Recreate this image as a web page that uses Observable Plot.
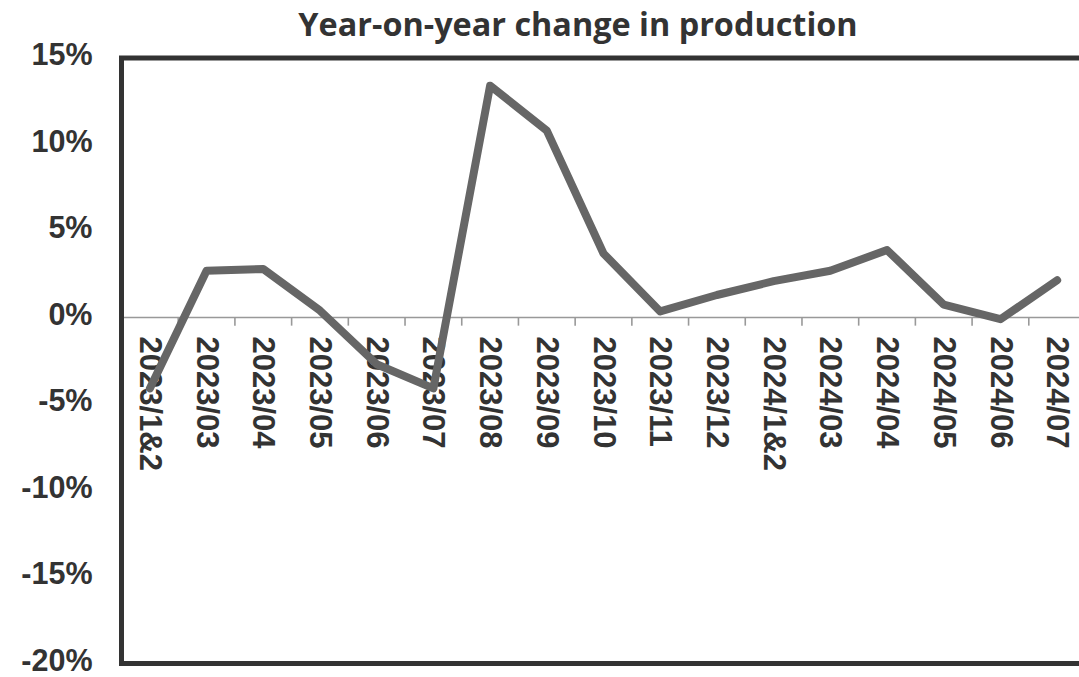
<!DOCTYPE html>
<html>
<head>
<meta charset="utf-8">
<script src="https://cdn.jsdelivr.net/npm/d3@7"></script>
<script src="https://cdn.jsdelivr.net/npm/@observablehq/plot@0.6"></script>
<style>
  html, body { margin: 0; padding: 0; background: #fff; overflow: hidden; }
  #wrap { position: relative; width: 1079px; height: 677px; overflow: hidden; }
  #title {
    position: absolute; left: 0; top: 7px; width: 1079px; box-sizing: border-box;
    padding-left: 77px; text-align: center;
    font: bold 32.4px/33px "Open Sans", "Noto Sans", sans-serif; color: #333;
    white-space: nowrap; z-index: 1;
  }
  #chart svg { display: block; overflow: hidden; }
</style>
</head>
<body>
<div id="wrap">
  <div id="title">Year-on-year change in production</div>
  <div id="chart"></div>
</div>
<script>
// Monthly periods (Jan & Feb reported together each year)
const months = [
  "2023/1&2", "2023/03", "2023/04", "2023/05", "2023/06", "2023/07",
  "2023/08", "2023/09", "2023/10", "2023/11", "2023/12",
  "2024/1&2", "2024/03", "2024/04", "2024/05", "2024/06", "2024/07"
];
// Year-on-year change, percent
const yoyChange = [
  -4.1, 2.7, 2.8, 0.4, -2.7, -4.1,
  13.4, 10.8, 3.7, 0.35, 1.3,
  2.1, 2.7, 3.9, 0.75, -0.1, 2.15
];
const yTicks = [-20, -15, -10, -5, 0, 5, 10, 15];

const rows = months.map((m, i) => ({month: m, pos: i + 0.5, value: yoyChange[i]}));
const boundaries = d3.range(months.length + 1);

const font = '"Liberation Sans", Arial, sans-serif';

// The plot area runs a few pixels past the right edge of the page
const chart = Plot.plot({
  width: 1079,
  height: 677,
  marginLeft: 121,
  marginRight: -6,
  marginTop: 57.5,
  marginBottom: 14,
  style: {fontFamily: font, fontWeight: "bold", fontSize: "30.5px", color: "#333", background: "#fff"},
  x: {domain: [0, months.length], axis: null},
  y: {domain: [-20, 15], label: null},
  marks: [
    Plot.axisY(yTicks, {tickSize: 0, tickPadding: 29, tickFormat: d => d + "%", dy: -2.5, fill: "#333"}),
    Plot.ruleY([0], {stroke: "#999", strokeWidth: 1.6}),
    Plot.ruleX(boundaries, {x: d => d, y1: 0, y2: -0.5, stroke: "#999", strokeWidth: 1.6}),
    Plot.text(rows, {
      x: "pos", y: 0, text: "month", rotate: 90, textAnchor: "start", dy: 19,
      fill: "#333", fontSize: 31, fontWeight: "bold"
    }),
    Plot.line(rows, {
      x: "pos", y: "value", stroke: "#666", strokeWidth: 8,
      strokeLinejoin: "round", strokeLinecap: "round"
    }),
    Plot.frame({stroke: "#333", strokeWidth: 5})
  ]
});
document.getElementById("chart").appendChild(chart);
</script>
</body>
</html>
